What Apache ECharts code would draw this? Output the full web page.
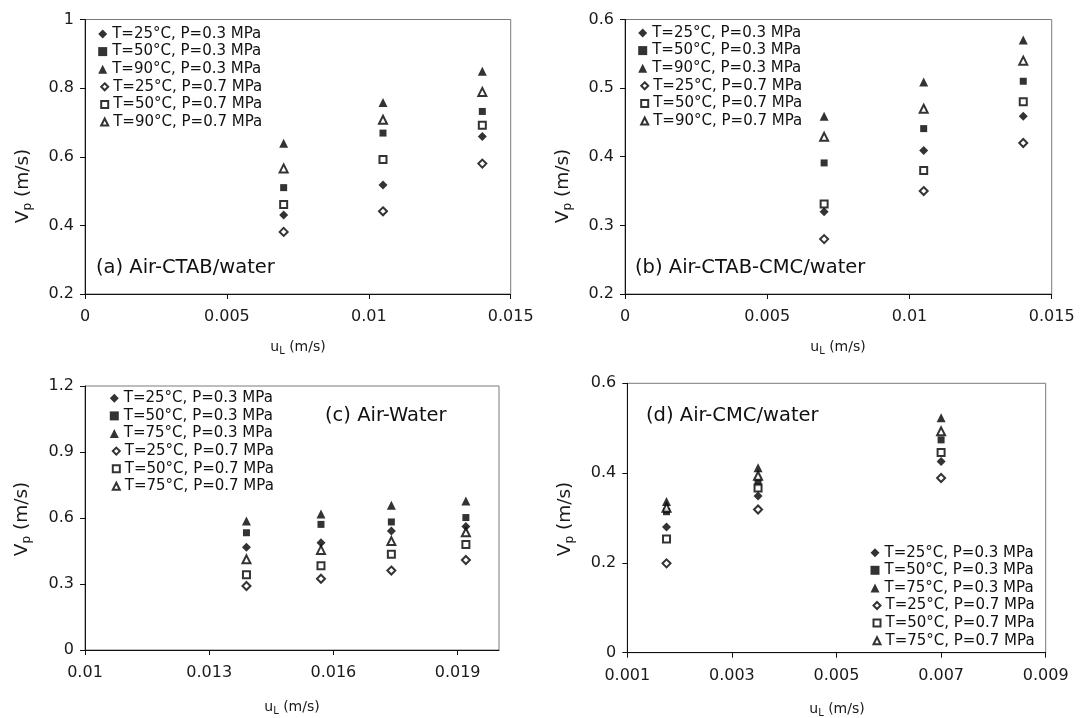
<!DOCTYPE html>
<html>
<head>
<meta charset="utf-8">
<script src="https://cdn.jsdelivr.net/npm/echarts@6/dist/echarts.min.js"></script>
<style>html,body{margin:0;padding:0;background:#fff}#c{width:1081px;height:718px}</style>
</head>
<body>
<div id="c"></div>
<script>
// ---------- data ----------
const namesAB = ['T=25°C, P=0.3 MPa','T=50°C, P=0.3 MPa','T=90°C, P=0.3 MPa','T=25°C, P=0.7 MPa','T=50°C, P=0.7 MPa','T=90°C, P=0.7 MPa'];
const namesCD = ['T=25°C, P=0.3 MPa','T=50°C, P=0.3 MPa','T=75°C, P=0.3 MPa','T=25°C, P=0.7 MPa','T=50°C, P=0.7 MPa','T=75°C, P=0.7 MPa'];

// (a) Air-CTAB/water
const xA = [0.007, 0.0105, 0.014];
const a_T25_P03 = [0.430, 0.518, 0.659];
const a_T50_P03 = [0.510, 0.669, 0.732];
const a_T90_P03 = [0.639, 0.758, 0.849];
const a_T25_P07 = [0.381, 0.441, 0.580];
const a_T50_P07 = [0.461, 0.592, 0.692];
const a_T90_P07 = [0.566, 0.708, 0.789];

// (b) Air-CTAB-CMC/water
const xB = [0.007, 0.0105, 0.014];
const b_T25_P03 = [0.320, 0.409, 0.459];
const b_T50_P03 = [0.391, 0.441, 0.510];
const b_T90_P03 = [0.459, 0.509, 0.570];
const b_T25_P07 = [0.280, 0.350, 0.420];
const b_T50_P07 = [0.331, 0.380, 0.480];
const b_T90_P07 = [0.429, 0.470, 0.540];

// (c) Air-Water
const xC = [0.0139, 0.0157, 0.0174, 0.0192];
const c_T25_P03 = [0.467, 0.488, 0.541, 0.561];
const c_T50_P03 = [0.533, 0.571, 0.582, 0.602];
const c_T75_P03 = [0.586, 0.618, 0.658, 0.677];
const c_T25_P07 = [0.291, 0.324, 0.361, 0.409];
const c_T50_P07 = [0.342, 0.383, 0.435, 0.479];
const c_T75_P07 = [0.412, 0.455, 0.495, 0.535];

// (d) Air-CMC/water
const xD = [0.00175, 0.0035, 0.007];
const d_T25_P03 = [0.280, 0.349, 0.426];
const d_T50_P03 = [0.314, 0.378, 0.474];
const d_T75_P03 = [0.337, 0.412, 0.523];
const d_T25_P07 = [0.199, 0.319, 0.389];
const d_T50_P07 = [0.253, 0.367, 0.446];
const d_T75_P07 = [0.323, 0.394, 0.493];

// tick values
const xTicksC = [0.01, 0.013, 0.016, 0.019];
const xTicksD = [0.001, 0.003, 0.005, 0.007, 0.009];

const panelLabels = ['(a) Air-CTAB/water', '(b) Air-CTAB-CMC/water', '(c) Air-Water', '(d) Air-CMC/water'];

// ---------- styling ----------
const FONT = '"DejaVu Sans", sans-serif';
const SYMBOLS = ['diamond','rect','triangle','emptyDiamond','emptyRect','emptyTriangle'];
const SIZES = [9, 7, 9, 8, 7, 8];

const grids = [
  {left: 85, top: 19.5, width: 425.7, height: 274.5},
  {left: 625, top: 19.5, width: 426.7, height: 274.5},
  {left: 85, top: 386, width: 414, height: 264},
  {left: 627.3, top: 383.3, width: 418.4, height: 269.4}
];

function buildSeries(names, xs, ysList, gi) {
  return ysList.map((ys, k) => ({
    type: 'scatter',
    name: names[k],
    xAxisIndex: gi, yAxisIndex: gi,
    data: xs.map((x, i) => [x, ys[i]]),
    symbol: SYMBOLS[k],
    symbolSize: SIZES[k],
    itemStyle: k >= 3 ? {color: '#000', borderColor: '#000', borderWidth: 1.2} : {color: '#000', borderWidth: 0},
    emphasis: {disabled: true}
  }));
}

const series = [].concat(
  buildSeries(namesAB, xA, [a_T25_P03, a_T50_P03, a_T90_P03, a_T25_P07, a_T50_P07, a_T90_P07], 0),
  buildSeries(namesAB, xB, [b_T25_P03, b_T50_P03, b_T90_P03, b_T25_P07, b_T50_P07, b_T90_P07], 1),
  buildSeries(namesCD, xC, [c_T25_P03, c_T50_P03, c_T75_P03, c_T25_P07, c_T50_P07, c_T75_P07], 2),
  buildSeries(namesCD, xD, [d_T25_P03, d_T50_P03, d_T75_P03, d_T25_P07, d_T50_P07, d_T75_P07], 3)
);

const axisLineStyle = {show: true, onZero: false, lineStyle: {color: '#111', width: 1}};
const tickStyle = {show: true, inside: false, length: 5, lineStyle: {color: '#111', width: 1}};
const labelStyle = {fontFamily: FONT, fontSize: 16, color: '#1a1a1a'};

function xAxisCfg(gi, min, max, interval, custom) {
  const ax = {
    type: 'value', gridIndex: gi, min: min, max: max,
    axisLine: axisLineStyle,
    axisTick: Object.assign({}, tickStyle),
    axisLabel: Object.assign({margin: 15}, labelStyle),
    splitLine: {show: false}
  };
  if (custom) {
    ax.axisTick.customValues = custom;
    ax.axisLabel.customValues = custom;
  } else {
    ax.interval = interval;
  }
  return ax;
}
function yAxisCfg(gi, min, max, interval) {
  return {
    type: 'value', gridIndex: gi, min: min, max: max, interval: interval,
    axisLine: axisLineStyle,
    axisTick: tickStyle,
    axisLabel: Object.assign({margin: 11}, labelStyle),
    splitLine: {show: false}
  };
}

// legend: filled markers (rows 1-3) and open markers (rows 4-6) as two stacked blocks
const ROW = 17.6;
function legendPair(names, markerCx, top) {
  const base = {
    orient: 'vertical', itemGap: 0.6, padding: 0, selectedMode: false,
    textStyle: {fontFamily: FONT, fontSize: 15, lineHeight: 17, color: '#111'}
  };
  const filled = Object.assign({}, base, {
    data: names.slice(0, 3).map(n => ({name: n, itemStyle: {borderWidth: 0}})),
    itemWidth: 9, itemHeight: 9, left: markerCx - 4.5, top: top
  });
  const open = Object.assign({}, base, {
    data: names.slice(3).map(n => ({name: n, itemStyle: {borderWidth: 1, borderColor: '#000'}})),
    itemWidth: 7, itemHeight: 7, left: markerCx - 2.5, top: top + 3 * ROW
  });
  return [filled, open];
}
const legends = [].concat(
  legendPair(namesAB, 102.7, 25.5),
  legendPair(namesAB, 642.7, 24.5),
  legendPair(namesCD, 114.3, 389.8),
  legendPair(namesCD, 875, 544.2)
);

// ---------- axis titles with subscripts (graphic) ----------
const mctx = document.createElement('canvas').getContext('2d');
function tw(text, size) { mctx.font = size + 'px "DejaVu Sans"'; return mctx.measureText(text).width; }

function subTitle(main, sub, rest, size, subSize, cx, cy, vertical) {
  const w1 = tw(main, size), w2 = tw(sub, subSize), w3 = tw(rest, size);
  const total = w1 + w2 + w3;
  const x0 = -total / 2;
  const st = (t, fs) => ({text: t, fontFamily: FONT, fontSize: fs, fill: '#1a1a1a', align: 'left', verticalAlign: 'middle'});
  return {
    type: 'group', x: cx, y: cy, rotation: vertical ? Math.PI / 2 : 0,
    children: [
      {type: 'text', x: x0, y: 0, style: st(main, size)},
      {type: 'text', x: x0 + w1, y: size * 0.28, style: st(sub, subSize)},
      {type: 'text', x: x0 + w1 + w2, y: 0, style: st(rest, size)}
    ]
  };
}

const graphics = [
  subTitle('V', 'p', ' (m/s)', 18.5, 12, 23, 186, true),
  subTitle('V', 'p', ' (m/s)', 18.5, 12, 563, 186, true),
  subTitle('V', 'p', ' (m/s)', 18.5, 12, 22, 519, true),
  subTitle('V', 'p', ' (m/s)', 18.5, 12, 565, 519, true),
  subTitle('u', 'L', ' (m/s)', 14, 10, 298, 347, false),
  subTitle('u', 'L', ' (m/s)', 14, 10, 838, 347, false),
  subTitle('u', 'L', ' (m/s)', 14, 10, 292, 707, false),
  subTitle('u', 'L', ' (m/s)', 14, 10, 837, 709, false)
];
const labelPos = [[96, 268], [635, 268], [325, 416], [646, 416]];
panelLabels.forEach((t, i) => {
  graphics.push({type: 'text', x: labelPos[i][0], y: labelPos[i][1],
    style: {text: t, fontFamily: FONT, fontSize: 19.5, fill: '#111', align: 'left', verticalAlign: 'middle'}});
});

const option = {
  animation: false,
  backgroundColor: '#fff',
  grid: grids.map(g => Object.assign({show: true, borderColor: '#7a7a7a', borderWidth: 1, backgroundColor: 'transparent'}, g)),
  xAxis: [
    xAxisCfg(0, 0, 0.015, 0.005),
    xAxisCfg(1, 0, 0.015, 0.005),
    xAxisCfg(2, 0.01, 0.02, null, xTicksC),
    xAxisCfg(3, 0.001, 0.009, null, xTicksD)
  ],
  yAxis: [
    yAxisCfg(0, 0.2, 1, 0.2),
    yAxisCfg(1, 0.2, 0.6, 0.1),
    yAxisCfg(2, 0, 1.2, 0.3),
    yAxisCfg(3, 0, 0.6, 0.2)
  ],
  legend: legends,
  graphic: graphics,
  series: series
};

const chart = echarts.init(document.getElementById('c'), null, {renderer: 'canvas'});
chart.setOption(option);
</script>
</body>
</html>
